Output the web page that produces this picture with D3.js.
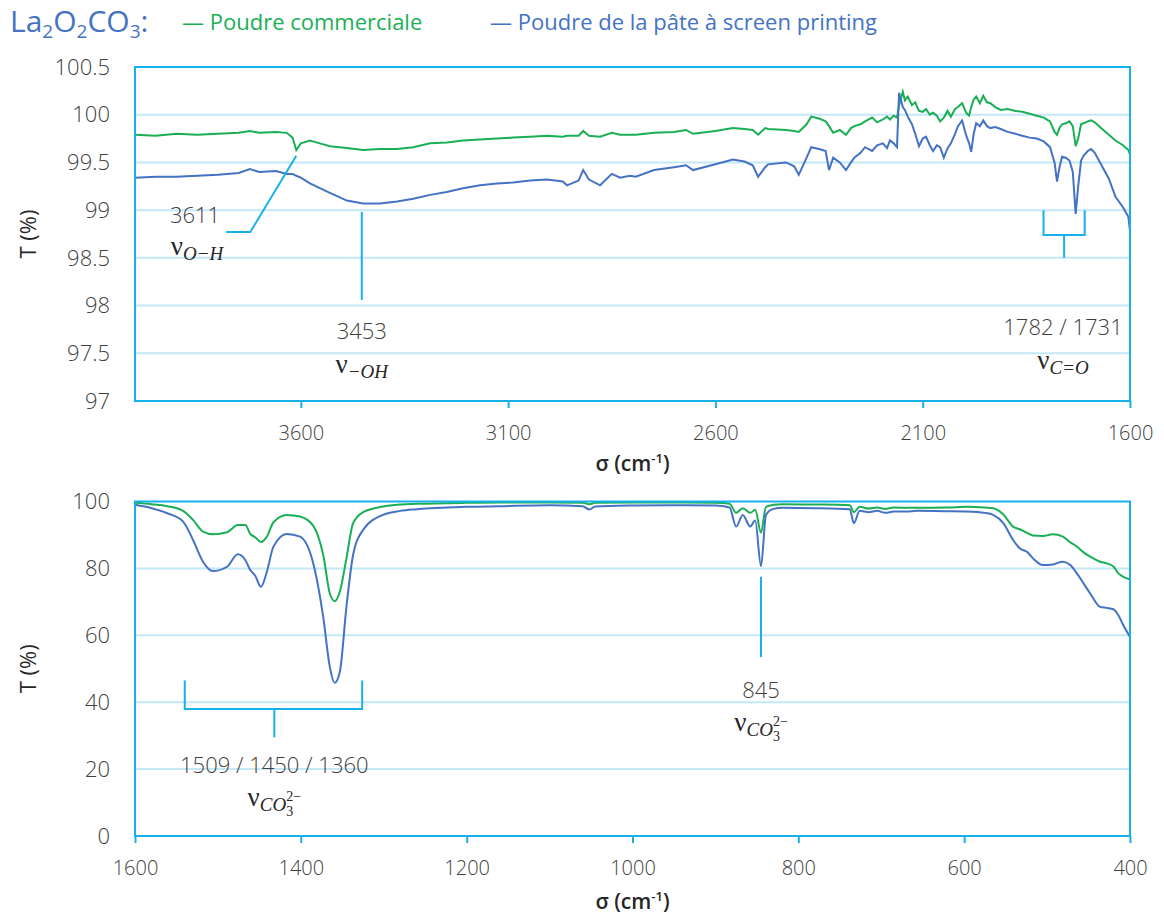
<!DOCTYPE html>
<html><head><meta charset="utf-8">
<script src="https://cdn.jsdelivr.net/npm/d3@7"></script>
<style>body{margin:0;background:#fff}svg{display:block}</style>
</head><body>
<svg id="c" width="1164" height="919"></svg>
<script>
// ---------- DATA ----------
const topWN = [4000,3950,3900,3850,3800,3750,3723,3700,3660,3634,3620,3611,3600,3578,3554,3530,3489,3450,3409,3368,3329,3288,3248,3209,3168,3127,3088,3047,3006,2968,2958,2930,2919,2905,2878,2850,2830,2806,2792,2748,2700,2671,2654,2600,2558,2530,2510,2497,2480,2473,2430,2410,2399,2380,2369,2350,2334,2326,2316,2300,2285,2273,2265,2250,2239,2222,2210,2196,2186,2179,2170,2162,2157,2148,2143,2136,2126,2118,2109,2100,2092,2083,2075,2066,2058,2049,2040,2032,2022,2015,2005,1995,1988,1983,1977,1971,1962,1954,1945,1937,1925,1912,1895,1876,1860,1842,1825,1808,1793,1782,1776,1770,1764,1755,1746,1738,1731,1725,1718,1712,1702,1694,1685,1670,1651,1635,1617,1604,1600];
const topCommercial = [99.79,99.78,99.80,99.79,99.80,99.81,99.83,99.81,99.82,99.81,99.76,99.63,99.70,99.73,99.70,99.67,99.65,99.63,99.64,99.64,99.66,99.70,99.71,99.73,99.74,99.75,99.76,99.77,99.78,99.77,99.78,99.78,99.83,99.78,99.77,99.81,99.79,99.79,99.79,99.81,99.82,99.84,99.80,99.83,99.86,99.85,99.84,99.79,99.86,99.85,99.84,99.83,99.82,99.90,99.98,99.96,99.93,99.88,99.81,99.84,99.79,99.86,99.88,99.90,99.93,99.97,99.92,99.95,99.98,99.95,99.99,99.97,100.10,100.24,100.15,100.19,100.10,100.13,100.04,100.03,100.06,100.00,100.02,99.99,99.93,99.97,100.04,99.98,100.06,100.08,100.12,100.02,99.99,100.08,100.16,100.19,100.12,100.20,100.13,100.12,100.08,100.05,100.06,100.04,100.03,100.01,99.99,99.97,99.93,99.82,99.79,99.86,99.90,99.91,99.93,99.88,99.67,99.75,99.90,99.91,99.93,99.94,99.92,99.86,99.79,99.73,99.68,99.63,99.58];
const topScreen = [99.34,99.35,99.35,99.36,99.37,99.39,99.43,99.40,99.41,99.38,99.38,99.36,99.34,99.28,99.23,99.18,99.10,99.07,99.07,99.09,99.12,99.16,99.19,99.23,99.26,99.28,99.29,99.31,99.32,99.30,99.26,99.31,99.42,99.32,99.26,99.38,99.34,99.36,99.35,99.42,99.45,99.47,99.42,99.48,99.53,99.51,99.47,99.35,99.45,99.48,99.50,99.46,99.37,99.55,99.66,99.64,99.62,99.42,99.55,99.50,99.42,99.50,99.55,99.60,99.66,99.62,99.68,99.70,99.65,99.73,99.70,99.66,100.23,100.08,100.05,99.98,99.90,99.80,99.67,99.75,99.77,99.68,99.62,99.68,99.66,99.55,99.65,99.70,99.80,99.88,99.94,99.78,99.70,99.61,99.80,99.91,99.88,99.94,99.88,99.86,99.87,99.85,99.82,99.80,99.78,99.76,99.75,99.72,99.66,99.50,99.30,99.45,99.56,99.55,99.52,99.40,98.96,99.25,99.52,99.57,99.62,99.64,99.60,99.48,99.33,99.14,99.03,98.93,98.78];

const botWN = [1600,1580,1561,1542,1530,1518,1506,1489,1476,1467,1461,1455,1448,1441,1433,1417,1401,1385,1373,1365,1359,1353,1345,1337,1325,1301,1280,1260,1200,1160,1100,1060,1052,1045,1000,950,900,883,875,867,858,852,845,839,830,819,780,738,733,726,715,705,695,685,670,657,620,597,575,565,553,541,533,524,517,505,493,481,472,464,456,448,436,428,420,414,408,400];
const botCommercial = [99.6,99.2,98.6,97.2,94.5,91.0,90.2,90.8,93.0,93.0,90.3,89.3,87.9,89.5,93.8,96.0,95.5,92.7,84.0,72.5,70.2,73.0,83.0,93.5,96.8,98.5,99.1,99.3,99.6,99.7,99.7,99.6,99.2,99.6,99.7,99.7,99.6,99.3,96.6,98.0,96.6,97.5,90.7,98.4,99.0,99.2,99.1,98.9,96.8,98.4,97.9,98.2,97.8,98.2,98.1,98.1,98.2,98.4,98.2,98.0,96.2,92.5,91.7,90.6,89.8,89.7,90.2,89.5,87.8,86.5,84.8,83.5,82.0,81.5,80.6,78.5,77.5,76.7];
const botScreen = [99.0,98.0,96.5,94.0,88.5,82.0,79.2,80.5,84.2,82.5,79.5,77.8,74.5,79.0,86.5,90.3,89.5,81.5,65.5,50.5,45.8,49.0,68.5,84.0,91.5,96.0,97.2,97.7,98.4,98.6,98.9,98.6,97.6,98.5,98.8,98.9,98.8,98.2,92.5,96.0,92.5,94.3,80.7,96.0,97.8,98.1,98.0,97.7,93.5,97.2,96.8,97.2,96.6,97.0,97.0,97.2,97.1,97.0,96.6,96.0,93.6,88.5,86.0,84.9,83.0,81.0,81.2,82.0,81.0,78.5,75.5,72.5,68.5,68.2,67.8,66.0,63.0,59.5];

const topXTicks = [3600,3100,2600,2100,1600];
const topYTicks = [97,97.5,98,98.5,99,99.5,100,100.5];
const botXTicks = [1600,1400,1200,1000,800,600,400];
const botYTicks = [0,20,40,60,80,100];
const seriesNames = ["Poudre commerciale","Poudre de la pâte à screen printing"];

// ---------- STYLE ----------
const GREEN = "#1aaf54", BLUE = "#4472c4", FRAME = "#16b0ea", GRID = "#c4e8f6", TXT = "#404040";
const FONT = "'Open Sans', 'Segoe UI', sans-serif";
const MATH = "'Liberation Serif', 'DejaVu Serif', serif";

const svg = d3.select("#c");

function panel(cfg){
  const g = svg.append("g");
  const x = d3.scaleLinear().domain(cfg.xDom).range([cfg.x0, cfg.x1]);
  const y = d3.scaleLinear().domain(cfg.yDom).range([cfg.y1, cfg.y0]);
  g.append("g").selectAll("line").data(cfg.yTicks.filter(t => t !== cfg.yDom[0] && t !== cfg.yDom[1]))
    .join("line").attr("x1", cfg.x0).attr("x2", cfg.x1)
    .attr("y1", d => y(d)).attr("y2", d => y(d))
    .attr("stroke", GRID).attr("stroke-width", 2);
  g.append("g").selectAll("text").data(cfg.yTicks).join("text")
    .attr("x", cfg.x0 - 25).attr("y", d => y(d)).attr("dy", "0.35em")
    .attr("text-anchor", "end").attr("font-family", FONT).attr("font-size", 22)
    .attr("font-weight", 300).attr("fill", TXT).text(d => d);
  const ax = d3.axisBottom(x).tickValues(cfg.xTicks).tickSize(7).tickFormat(d => d);
  const axg = g.append("g").attr("transform", `translate(0,${cfg.y1})`).call(ax);
  axg.select(".domain").remove();
  axg.selectAll(".tick line").attr("stroke", FRAME).attr("stroke-width", 2);
  axg.selectAll(".tick text").attr("font-family", FONT).attr("font-size", 20).attr("font-weight", 300)
    .attr("fill", TXT).attr("y", 25);
  const line = d3.line().x((d,i) => x(cfg.wn[i])).y(d => y(d)).curve(cfg.curve);
  g.append("path").datum(cfg.s1).attr("d", line).attr("fill", "none").attr("stroke", GREEN).attr("stroke-width", 2);
  g.append("path").datum(cfg.s2).attr("d", line).attr("fill", "none").attr("stroke", BLUE).attr("stroke-width", 2);
  g.append("rect").attr("x", cfg.x0).attr("y", cfg.y0).attr("width", cfg.x1 - cfg.x0).attr("height", cfg.y1 - cfg.y0)
    .attr("fill", "none").attr("stroke", FRAME).attr("stroke-width", 2);
  g.append("text").attr("x", (cfg.x0 + cfg.x1)/2).attr("y", cfg.y1 + cfg.titleOff)
    .attr("text-anchor", "middle").attr("font-family", FONT).attr("font-size", 21).attr("font-weight", 600).attr("fill", "#262626")
    .call(t => { t.append("tspan").text("σ (cm"); t.append("tspan").attr("dy", -8).attr("font-size", 13).text("-1"); t.append("tspan").attr("dy", 8).text(")"); });
  g.append("text").attr("transform", `translate(28,${(cfg.y0 + cfg.y1)/2}) rotate(-90)`).attr("dy", "0.35em")
    .attr("text-anchor", "middle").attr("font-family", FONT).attr("font-size", 22).attr("fill", "#262626").text("T (%)");
  return {x, y, g};
}

const T = panel({x0:135, x1:1130, y0:67, y1:401, xDom:[4000,1600], yDom:[97,100.5], titleOff: 70,
  xTicks: topXTicks, yTicks: topYTicks, wn: topWN, s1: topCommercial, s2: topScreen, curve: d3.curveLinear});
const B = panel({x0:135, x1:1130, y0:501.5, y1:836, xDom:[1600,400], yDom:[0,100], titleOff: 73,
  xTicks: botXTicks, yTicks: botYTicks, wn: botWN, s1: botCommercial, s2: botScreen, curve: d3.curveMonotoneX});

// ---------- ANNOTATIONS ----------
const ann = svg.append("g").attr("stroke", FRAME).attr("stroke-width", 2).attr("fill", "none");
function label(x, y, txt){
  svg.append("text").attr("x", x).attr("y", y).attr("text-anchor", "middle").attr("dy", "0.35em")
    .attr("font-family", FONT).attr("font-size", 22).attr("font-weight", 300).attr("fill", TXT).text(txt);
}
function nu(x, y, sub, carbonate){
  const t = svg.append("text").attr("x", x).attr("y", y).attr("text-anchor", "middle")
    .attr("font-family", MATH).attr("fill", "#262626");
  t.append("tspan").attr("font-size", 27).text("ν");
  t.append("tspan").attr("font-size", 19).attr("font-style", "italic").attr("dy", 5).text(sub);
  if (carbonate){
    t.append("tspan").attr("font-size", 14).attr("dy", 5).text("3");
    t.append("tspan").attr("font-size", 14).attr("dx", -7).attr("dy", -15).text("2−");
  }
}
const x3611 = T.x(3611);
ann.append("path").attr("d", `M${x3611},${T.y(99.57)} L${x3611-46},${T.y(98.77)} L${x3611-70},${T.y(98.77)}`);
label(195, 215, "3611"); nu(197, 255, "O−H");
ann.append("line").attr("x1", T.x(3453)).attr("x2", T.x(3453)).attr("y1", T.y(98.98)).attr("y2", T.y(98.06));
label(T.x(3453), 331, "3453"); nu(T.x(3453), 373, "−OH");
const xa = T.x(1782) - 11, xb = T.x(1731) + 9, xm = (xa + xb)/2;
ann.append("path").attr("d", `M${xa},${T.y(99.0)} V${T.y(98.74)} H${xb} V${T.y(99.0)} M${xm},${T.y(98.74)} V${T.y(98.5)}`);
label(1063, 327, "1782 / 1731"); nu(1063, 369, "C=O");
const ba = B.x(1540), bb = B.x(1326), bm = B.x(1432);
ann.append("path").attr("d", `M${ba},${B.y(46.5)} V${B.y(38.0)} H${bb} V${B.y(46.5)} M${bm},${B.y(38.0)} V${B.y(29.5)}`);
label(bm, 765, "1509 / 1450 / 1360"); nu(bm, 806, "CO", true);
ann.append("line").attr("x1", B.x(845)).attr("x2", B.x(845)).attr("y1", B.y(77.5)).attr("y2", B.y(53.5));
label(B.x(845), 690, "845"); nu(B.x(845), 731, "CO", true);

// ---------- LEGEND ----------
const lg = svg.append("g");
const chem = lg.append("text").attr("x", 10).attr("y", 32).attr("font-family", FONT).attr("font-size", 30).attr("fill", BLUE);
[["La",0],["2",1],["O",0],["2",1],["CO",0],["3",1],[":",0]].forEach(([s, sub], i, arr) => {
  const prev = i > 0 ? arr[i-1][1] : 0;
  chem.append("tspan").attr("font-size", sub ? 19 : 30).attr("dy", sub && !prev ? 6 : (!sub && prev ? -6 : 0)).text(s);
});
lg.append("text").attr("x", 182).attr("y", 30).attr("font-family", FONT).attr("font-size", 22).attr("fill", GREEN).text("— " + seriesNames[0]);
lg.append("text").attr("x", 490).attr("y", 30).attr("font-family", FONT).attr("font-size", 22).attr("fill", BLUE).text("— " + seriesNames[1]);
</script>
</body></html>
